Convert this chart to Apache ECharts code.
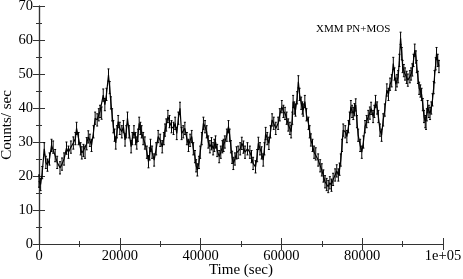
<!DOCTYPE html>
<html>
<head>
<meta charset="utf-8">
<script src="https://cdn.jsdelivr.net/npm/echarts@6/dist/echarts.min.js"></script>
<style>html,body{margin:0;padding:0;background:#fff}#c{width:463px;height:279px}</style>
</head>
<body>
<div id="c"></div>
<script>
// Time in kiloseconds (converted to seconds below) and count rate (counts/sec)
const timeKs = [
0.0,0.4,0.8,1.3,1.7,2.1,2.6,3.1,3.5,4.0,4.5,5.2,5.7,6.2,6.8,7.3,7.9,8.5,9.0,9.3,9.8,10.3,10.6,11.0,11.4,11.8,12.2,12.6,13.0,13.5,13.9,14.4,14.8,15.1,15.5,15.9,16.3,16.7,17.2,17.5,17.8,18.1,18.4,18.7,19.0,19.3,19.6,20.0,20.5,20.9,21.3,21.6,21.9,22.3,22.8,23.1,23.5,23.9,24.2,24.5,24.8,25.1,25.4,25.8,26.2,26.7,27.1,27.4,27.6,28.0,28.5,29.0,29.5,30.0,30.5,30.9,31.2,31.5,31.9,32.3,32.8,33.3,33.7,34.1,34.5,34.9,35.3,35.7,36.1,36.6,37.0,37.4,37.8,38.2,38.6,38.9,39.2,39.6,39.9,40.3,40.7,41.1,41.5,41.9,42.3,42.7,43.1,43.4,43.7,44.1,44.6,45.0,45.4,45.7,46.0,46.5,46.9,47.2,47.5,47.8,48.1,48.5,48.9,49.3,49.8,50.2,50.6,51.0,51.6,52.2,52.6,53.0,53.6,54.0,54.3,54.7,55.1,55.5,55.8,56.1,56.5,56.9,57.3,57.7,58.1,58.6,59.2,59.6,60.1,60.5,60.9,61.3,61.7,62.1,62.4,62.7,62.9,63.2,63.5,63.9,64.2,64.5,64.9,65.2,65.4,65.8,66.2,66.7,67.0,67.3,67.7,68.1,68.5,69.1,69.6,70.0,70.4,70.8,71.2,71.6,72.0,72.4,72.8,73.3,73.7,74.1,74.4,74.7,75.0,75.3,75.8,76.2,76.6,76.9,77.2,77.5,77.8,78.1,78.4,78.7,79.0,79.5,79.9,80.3,80.7,81.1,81.5,81.9,82.2,82.7,83.0,83.3,83.7,84.0,84.4,84.8,85.2,85.6,86.1,86.5,86.9,87.3,87.7,88.0,88.3,88.6,88.9,89.2,89.5,89.8,90.0,90.3,90.6,91.0,91.3,91.8,92.1,92.4,92.7,93.0,93.3,93.5,93.8,94.1,94.4,94.7,95.0,95.3,95.6,95.8,96.0,96.2,96.5,96.8,97.1,97.4,97.7,97.9,98.2,98.4,98.7,99.0
];
const countRate = [
18.5,17.5,21,28,24,23.2,25,29,28.5,26,24,22.4,23.5,25,28.2,27,28.5,29.7,31,34,31,28,26.8,27.5,27,29.5,31.5,30.5,29,33,37,36.5,38,39,38.5,43.8,41,44,49.7,46,41.5,38,34.5,32,29.7,33,36,34,33,34.5,30.6,33,37,33,28.6,31,33,31,29.7,32,35.5,34,33,31,29.7,27,24.2,26.5,29,27,24.7,28,31.6,30.5,28.6,31,33.5,35,37.5,36,34.5,34,35.5,32.5,37,39.9,32.5,33,34,31,29,30.5,31.6,28,25.7,23,21.8,24,27,31,35.5,34.5,33,30,28.6,29.5,28,29,30,27.5,25.7,27,28.6,29,30,32,34.5,32,28.6,25.5,23.7,25,26.8,27,28,29.6,28.5,27,28,27,25.7,23.7,22.7,26,29.6,28,26.8,24.7,28,32.5,31,29.6,33,36.5,35.5,34,35.5,38,40.4,39,38.4,37,35,34,33,37,41.9,40,39.4,43,47.7,44,41.4,40,39.4,41.9,38,35.5,33,30.6,29,27,26.5,24.7,23,21.8,20,18.3,17.5,16.9,18,17.3,19,20.3,21.5,20.3,22,24.7,29,33.5,33,31.6,34.5,37,40.4,39,38.4,39.5,40.9,36,32,29,27,30,34.5,36,37.5,38.5,39.9,37.5,39,41.9,40,37.5,33.5,32,36.5,39.4,45.3,44,47,48,53.1,50,47,48,49.2,54,60.5,56,52.2,51,50,49,48.2,49.2,50,51.2,54,57,55,52.2,49,45.8,45,44,41,37.5,36,35.5,38,40.4,39,38.4,40,42.4,46,49.2,53,56,54,52.2
];
const errHalf = 1.8;
const xTickLabels = ['0','20000','40000','60000','80000','1e+05'];
const yTickLabels = ['0','10','20','30','40','50','60','70'];
const annotation = 'XMM PN+MOS';

const lineData = timeKs.map((t, i) => [t * 1000, countRate[i]]);
const errData = timeKs.map((t, i) => [t * 1000, countRate[i] - errHalf, countRate[i] + errHalf]);

const font = 'Liberation Serif';
const axisCol = '#333';
function baseAxis(extra) {
  return Object.assign({
    type: 'value',
    nameMoveOverlap: false,
    axisLine: { show: true, lineStyle: { color: axisCol, width: 1.2 } },
    axisTick: { show: true, inside: true, length: 6, lineStyle: { color: axisCol, width: 1 } },
    minorTick: { show: true, splitNumber: 2, length: 3, lineStyle: { color: axisCol, width: 1 } },
    splitLine: { show: false },
    minorSplitLine: { show: false }
  }, extra);
}

const chart = echarts.init(document.getElementById('c'), null, { renderer: 'canvas' });
chart.setOption({
  animation: false,
  backgroundColor: '#fff',
  grid: { left: 39, right: 20, top: 6, bottom: 35, containLabel: false, outerBoundsMode: 'none' },
  xAxis: [
    baseAxis({
      position: 'bottom', min: 0, max: 100000, interval: 20000,
      name: 'Time (sec)', nameLocation: 'middle', nameGap: 19,
      nameTextStyle: { fontFamily: font, fontSize: 15, color: '#000', verticalAlign: 'top' },
      axisLabel: { fontFamily: font, fontSize: 14.5, color: '#000', margin: 5,
        formatter: v => xTickLabels[Math.round(v / 20000)] }
    }),
    baseAxis({ position: 'top', min: 0, max: 100000, interval: 20000, axisLabel: { show: false } })
  ],
  yAxis: [
    baseAxis({
      position: 'left', min: 0, max: 70, interval: 10,
      name: 'Counts/ sec', nameLocation: 'middle', nameGap: 24,
      nameTextStyle: { fontFamily: font, fontSize: 15, color: '#000' },
      axisLabel: { fontFamily: font, fontSize: 14.5, color: '#000', margin: 6,
        formatter: v => yTickLabels[Math.round(v / 10)] }
    }),
    baseAxis({ position: 'right', min: 0, max: 70, interval: 10, axisLabel: { show: false } })
  ],
  graphic: [{
    type: 'text', left: 316, top: 24,
    style: { text: annotation, font: '11px "Liberation Serif"', fill: '#000' }
  }],
  series: [
    {
      type: 'line', xAxisIndex: 0, yAxisIndex: 0, data: lineData,
      showSymbol: false, symbol: 'none',
      lineStyle: { color: '#000', width: 1.2 }
    },
    {
      type: 'custom', xAxisIndex: 0, yAxisIndex: 0, data: errData,
      renderItem: function (params, api) {
        const x = api.value(0);
        const lo = api.coord([x, api.value(1)]);
        const hi = api.coord([x, api.value(2)]);
        const st = { stroke: '#000', lineWidth: 1 };
        return {
          type: 'group', children: [
            { type: 'line', shape: { x1: lo[0], y1: lo[1], x2: hi[0], y2: hi[1] }, style: st },
            { type: 'line', shape: { x1: lo[0] - 1, y1: lo[1], x2: lo[0] + 1, y2: lo[1] }, style: st },
            { type: 'line', shape: { x1: hi[0] - 1, y1: hi[1], x2: hi[0] + 1, y2: hi[1] }, style: st }
          ]
        };
      }
    }
  ]
});
</script>
</body>
</html>
